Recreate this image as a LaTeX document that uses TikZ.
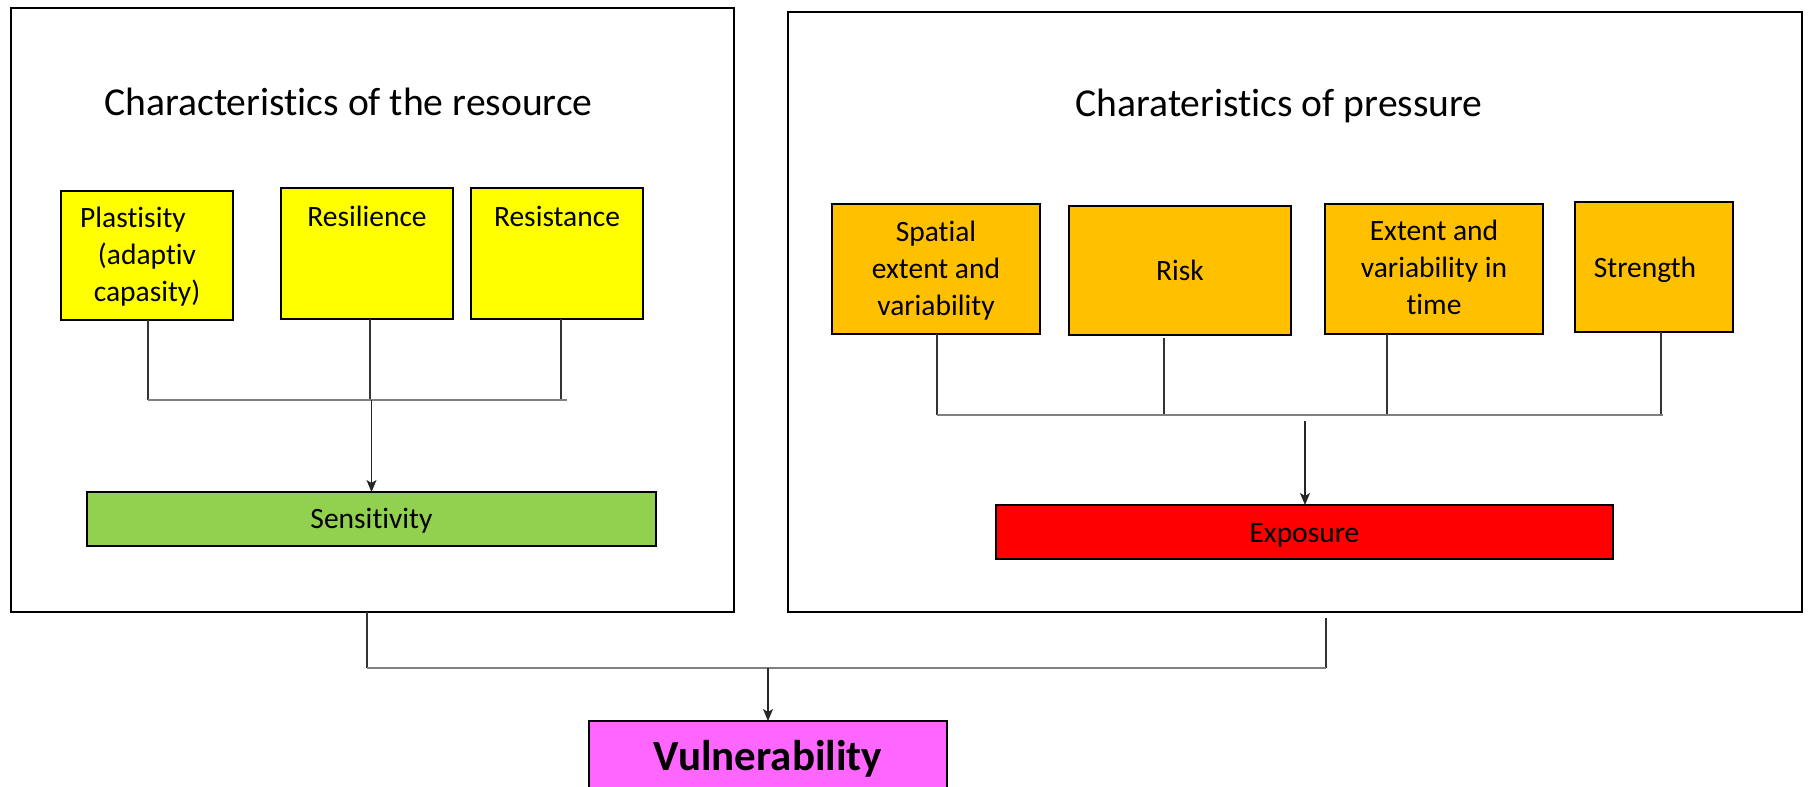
\documentclass[tikz,border=0pt]{standalone}
\usepackage{fontspec}
\setmainfont{Carlito}[Ligatures=NoCommon]
\usetikzlibrary{arrows.meta}
\definecolor{ylw}{HTML}{FFFF00}
\definecolor{org}{HTML}{FFC000}
\definecolor{grn}{HTML}{92D050}
\definecolor{rd}{HTML}{FF0000}
\definecolor{mgt}{HTML}{FF66FF}
\newcommand\mlines[1]{\begin{tabular}[t]{@{}c@{}}#1\end{tabular}}
\begin{document}
\begin{tikzpicture}[x=1pt,y=-1pt,
  bigbox/.style={draw=black,line width=2.5pt,inner sep=0pt,outer sep=0pt},
  cbox/.style={draw=black,line width=2.3pt,inner sep=0pt,outer sep=0pt},
  txt/.style={inner sep=0pt,anchor=base,font=\fontsize{29.5}{37}\selectfont},
  ttl/.style={inner sep=0pt,anchor=base,font=\fontsize{39.6}{48}\selectfont},
  vert/.style={draw=black!80,line width=1.2pt},
  bus/.style={draw=black!50,line width=2pt},
  arr/.style={draw=black!85,line width=1.2pt,-{Stealth[length=12pt,width=10pt,inset=3pt]}}
]
\useasboundingbox (0,0) rectangle (1810,787);
\fill[white] (0,0) rectangle (1810,787);

% big frames
\node[bigbox,minimum width=723pt,minimum height=604pt] (lbox) at (372.5,310) {};
\node[bigbox,minimum width=1014pt,minimum height=600pt] (rbox) at (1295,312) {};

% titles
\node[ttl] (tl) at (348.5,115) {Characteristics of the resource};
\node[ttl] (tr) at (1279,116) {Charateristics of pressure};

% yellow boxes
\node[cbox,fill=ylw,minimum width=172pt,minimum height=129pt] (plast) at (147,255.5) {};
\node[cbox,fill=ylw,minimum width=172pt,minimum height=131pt] (resil) at (367,253.5) {};
\node[cbox,fill=ylw,minimum width=172pt,minimum height=131pt] (resist) at (557,253.5) {};
\node[txt] (plastt) at (147,227) {\mlines{Plastisity\kern28pt\\(adaptiv\\capasity)}};
\node[txt] (resilt) at (367,226) {Resilience};
\node[txt] (resistt) at (557,226) {Resistance};

% orange boxes
\node[cbox,fill=org,minimum width=208pt,minimum height=130pt] (spat) at (936,269) {};
\node[cbox,fill=org,minimum width=222pt,minimum height=129pt] (risk) at (1180,270.5) {};
\node[cbox,fill=org,minimum width=218pt,minimum height=130pt] (ext) at (1434,269) {};
\node[cbox,fill=org,minimum width=158pt,minimum height=130pt] (str) at (1654,267) {};
\node[txt] (spatt) at (936,241) {\mlines{Spatial\\extent and\\variability}};
\node[txt] (riskt) at (1180,280) {Risk};
\node[txt] (extt) at (1434,240) {\mlines{Extent and\\variability in\\time}};
\node[txt] (strt) at (1645,277) {Strength};

% result boxes
\node[cbox,fill=grn,minimum width=569pt,minimum height=54pt] (sens) at (371.5,519) {};
\node[txt] (senst) at (371.5,528) {Sensitivity};
\node[cbox,fill=rd,minimum width=617pt,minimum height=54pt] (expo) at (1304.5,532) {};
\node[txt] (expot) at (1304.5,542) {Exposure};
\node[cbox,fill=mgt,minimum width=358pt,minimum height=119pt] (vuln) at (768,780.5) {};
\node[inner sep=0pt,anchor=base,font=\fontsize{43}{50}\selectfont\bfseries] (vulnt) at (768,770) {Vulnerability};

% left connectors
\coordinate (lh) at (567,400);
\coordinate (lhs) at (148,400);
\draw[vert] ([xshift=1pt]plast.south) -- (lhs);
\draw[vert] ([xshift=3pt]resil.south) -- ([xshift=3pt]resil.south |- lh);
\draw[vert] ([xshift=4pt]resist.south) -- ([xshift=4pt]resist.south |- lh);
\draw[bus] (lhs) -- (lh);
\draw[arr] (sens.north |- lh) -- (sens.north);

% right connectors
\coordinate (rh) at (1663,415);
\coordinate (rhs) at (937,415);
\draw[vert] ([xshift=1pt]spat.south) -- (rhs);
\draw[vert] ([xshift=-16pt,yshift=-3pt]risk.south) -- ([xshift=-16pt]risk.south |- rh);
\draw[vert] ([xshift=-47pt]ext.south) -- ([xshift=-47pt]ext.south |- rh);
\draw[vert] ([xshift=7pt]str.south) -- ([xshift=7pt]str.south |- rh);
\draw[bus] (rhs) -- (rh);
\coordinate (ra) at (1305,421);
\draw[arr] (ra) -- (ra |- expo.north);

% bottom connectors
\coordinate (bl) at (367,668);
\coordinate (br) at (1326,668);
\draw[vert] ([xshift=-5.5pt]lbox.south) -- (bl);
\draw[vert] ([xshift=31pt,yshift=-6pt]rbox.south) -- (br);
\draw[bus] (bl) -- (br);
\draw[arr] (vuln.north |- bl) -- (vuln.north);
\end{tikzpicture}
\end{document}
